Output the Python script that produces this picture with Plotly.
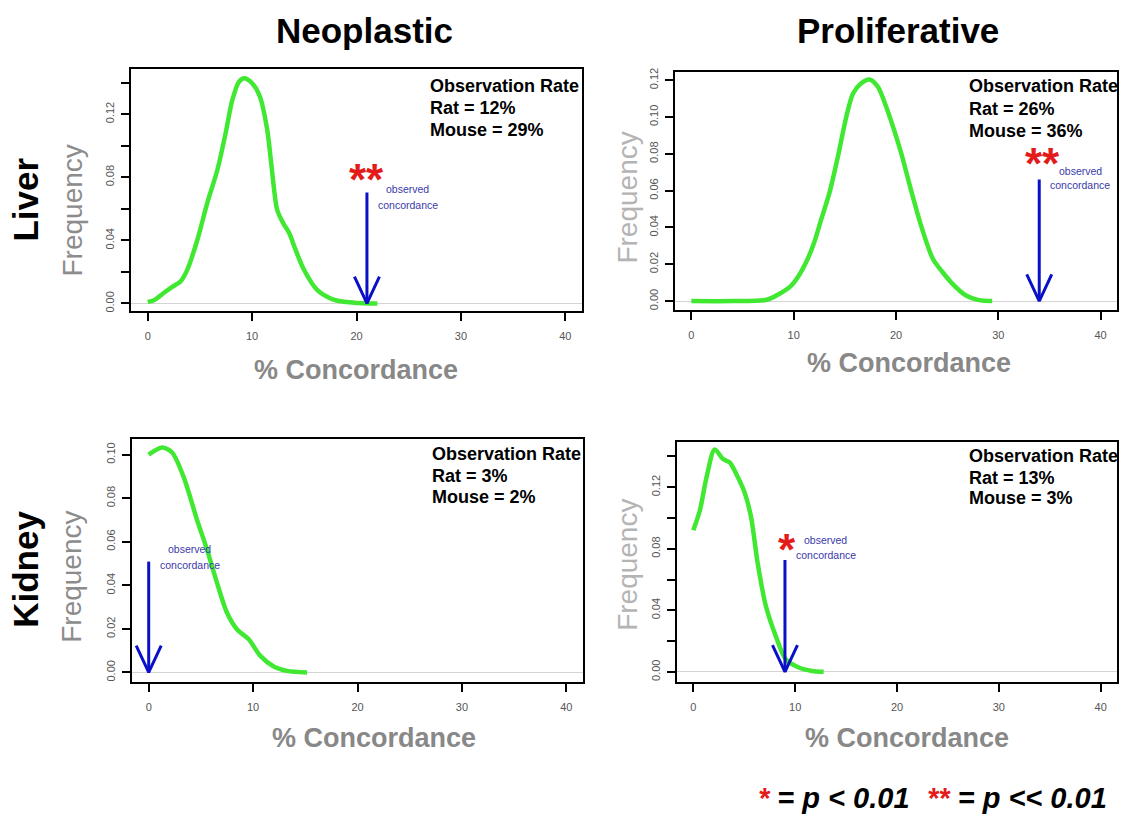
import plotly.graph_objects as go

W, H = 1122, 821
FONT = "Liberation Sans, Arial, Helvetica, sans-serif"

# ---------------- data ----------------
column_titles = ["Neoplastic", "Proliferative"]
row_titles = ["Liver", "Kidney"]
x_ticks = [0, 10, 20, 30, 40]

liver_neo_x = [0, 0.6, 1.56, 2.35, 3.16, 3.8, 4.76, 5.7, 6.67, 7.46, 8.1, 8.74, 9.25, 10.02, 10.75,
               11.45, 11.83, 12.4, 12.97, 13.55, 14.16, 14.96, 16.2, 17.8, 19.75, 22.0]
liver_neo_y = [0.001, 0.0021, 0.0068, 0.0105, 0.0141, 0.0215, 0.0404, 0.0636, 0.0846, 0.1078, 0.1289,
               0.1405, 0.1427, 0.1394, 0.131, 0.110, 0.0889, 0.0594, 0.051, 0.0447, 0.0341, 0.0215,
               0.0088, 0.0025, 0.0005, 0.0]

liver_pro_x = [0, 4.12, 7.36, 8.66, 9.8, 10.9, 11.9, 12.7, 13.5, 14.33, 15.15, 15.8, 16.57, 17.4,
               18.23, 19.03, 19.7, 20.5, 21.45, 22.45, 23.6, 24.54, 25.5, 26.8, 28.1, 29.4]
liver_pro_y = [0.0, 0.0, 0.0007, 0.0041, 0.0086, 0.0176, 0.0302, 0.0445, 0.0589, 0.0787, 0.1003,
               0.1128, 0.1182, 0.1204, 0.1164, 0.1057, 0.0949, 0.0805, 0.0607, 0.041, 0.023, 0.0158,
               0.0095, 0.0032, 0.0005, 0.0]

kidney_neo_x = [0, 1.28, 2.24, 3.35, 4.64, 5.6, 6.55, 7.5, 8.47, 9.58, 10.7, 11.97, 13.25, 15.17]
kidney_neo_y = [0.100, 0.1033, 0.101, 0.0897, 0.0699, 0.0562, 0.041, 0.0274, 0.0197, 0.0152, 0.0076,
                0.0027, 0.0007, 0.0]

kidney_pro_x = [0, 0.65, 1.3, 2.1, 2.92, 3.57, 4.22, 5.02, 5.67, 6.32, 7.13, 8.1, 9.08, 10.37, 11.66, 12.8]
kidney_pro_y = [0.092, 0.105, 0.1265, 0.1445, 0.1383, 0.1361, 0.1286, 0.1168, 0.1006, 0.0706, 0.0426,
                0.0232, 0.0082, 0.0028, 0.0006, 0.0]

observed_concordance = [21, 34, 0, 9]
significance = ["**", "**", "", "*"]
rat_rate = [12, 26, 3, 13]
mouse_rate = [29, 36, 2, 3]

y_ticks = [
    [0.00, 0.02, 0.04, 0.06, 0.08, 0.10, 0.12, 0.14],
    [0.00, 0.02, 0.04, 0.06, 0.08, 0.10, 0.12],
    [0.00, 0.02, 0.04, 0.06, 0.08, 0.10],
    [0.00, 0.02, 0.04, 0.06, 0.08, 0.10, 0.12, 0.14],
]
y_tick_labels = [
    ["0.00", "", "0.04", "", "0.08", "", "0.12", ""],
    ["0.00", "0.02", "0.04", "0.06", "0.08", "0.10", "0.12"],
    ["0.00", "0.02", "0.04", "0.06", "0.08", "0.10"],
    ["0.00", "", "0.04", "", "0.08", "", "0.12", ""],
]
curves = [(liver_neo_x, liver_neo_y), (liver_pro_x, liver_pro_y),
          (kidney_neo_x, kidney_neo_y), (kidney_pro_x, kidney_pro_y)]

# ---------------- layout (pixel boxes) ----------------
panels = [
    dict(x0=131, x1=582, y0=65, y1=309, yr=(-0.0046, 0.1489), arrow_top=0.0704,
         star_y=0.0805, star_dx=0, obs_y=(186, 202), freq=(72, 208, "#8c8c8c"), conc=(356, 369),
         rate=(428, [83, 105, 127])),
    dict(x0=675, x1=1117, y0=68, y1=308, yr=(-0.0047, 0.1247), arrow_top=0.0661,
         star_y=0.0761, star_dx=3, obs_y=(168, 182), freq=(628, 195, "#b4b4b4"), conc=(909, 362),
         rate=(967, [83, 106, 128])),
    dict(x0=132, x1=583, y0=438, y1=683, yr=(-0.0044, 0.1073), arrow_top=0.0509,
         star_y=None, star_dx=0, obs_y=(549, 565), freq=(72, 577, "#8c8c8c"), conc=(374, 739),
         rate=(430, [453, 475, 497])),
    dict(x0=677, x1=1117, y0=441, y1=683, yr=(-0.0066, 0.1495), arrow_top=0.0727,
         star_y=0.0816, star_dx=2, obs_y=(540, 555), freq=(628, 565, "#b4b4b4"), conc=(907, 739),
         rate=(967, [455, 477, 498])),
]
XR = (-1.6, 41.6)

def px(x):
    return x / W

def py(y):
    return 1 - y / H

fig = go.Figure()
annotations = []

for i, p in enumerate(panels):
    n = "" if i == 0 else str(i + 1)
    xa, ya = "x" + n, "y" + n
    cx, cy = curves[i]
    fig.add_trace(go.Scatter(x=cx, y=cy, mode="lines", xaxis=xa, yaxis=ya,
                             line=dict(color="#40e832", width=4.5, shape="spline", smoothing=0.8),
                             hoverinfo="skip", showlegend=False))
    # arrow
    ux = (p["x1"] - p["x0"]) / (XR[1] - XR[0])          # px per x unit
    uy = (p["y1"] - p["y0"]) / (p["yr"][1] - p["yr"][0])  # px per y unit
    hw, hh = 12.5 / ux, 27 / uy
    o = observed_concordance[i]
    fig.add_trace(go.Scatter(x=[o, o, None, o - hw, o, o + hw],
                             y=[p["arrow_top"], 0, None, hh, 0, hh],
                             mode="lines", xaxis=xa, yaxis=ya,
                             line=dict(color="#0a10c8", width=3),
                             hoverinfo="skip", showlegend=False))
    ax = dict(domain=[px(p["x0"]), px(p["x1"])], range=list(XR), tickvals=x_ticks,
              ticktext=[str(t) for t in x_ticks], ticks="outside", ticklen=8, tickwidth=1.5,
              tickcolor="black", showline=True, linecolor="black", linewidth=2, mirror=True,
              showgrid=False, zeroline=False, tickfont=dict(family=FONT, size=11, color="#555"),
              anchor=ya, fixedrange=True, ticklabelstandoff=6)
    ay = dict(domain=[py(p["y1"]), py(p["y0"])], range=list(p["yr"]), tickvals=y_ticks[i],
              ticktext=y_tick_labels[i], ticks="outside", ticklen=8, tickwidth=1.5,
              tickcolor="black", showline=True, linecolor="black", linewidth=2, mirror=True,
              showgrid=False, zeroline=True, zerolinecolor="#d4d4d4", zerolinewidth=1,
              tickangle=-90, tickfont=dict(family=FONT, size=11, color="#555"),
              anchor=xa, fixedrange=True, ticklabelstandoff=3)
    fig.update_layout(**{"xaxis" + n: ax, "yaxis" + n: ay})

    # significance stars
    if significance[i]:
        annotations.append(dict(x=o, y=p["star_y"], xref=xa, yref=ya, text="<b>%s</b>" % significance[i],
                                showarrow=False, xanchor="center", yanchor="middle", yshift=-3,
                                xshift=p["star_dx"],
                                font=dict(family=FONT, size=44, color="#e31b1b")))
    # observed concordance label
    for j, word in enumerate(["observed", "concordance"]):
        annotations.append(dict(x=px(p["x0"] + (o - XR[0]) * ux + 41), y=py(p["obs_y"][j]),
                                xref="paper", yref="paper", text=word, showarrow=False,
                                xanchor="center", yanchor="middle",
                                font=dict(family=FONT, size=10.5, color="#3a3aaa")))
    # observation rate box
    lines = ["Observation Rate", "Rat = %d%%" % rat_rate[i], "Mouse = %d%%" % mouse_rate[i]]
    for j, t in enumerate(lines):
        annotations.append(dict(x=px(p["rate"][0]), y=py(p["rate"][1][j]), xref="paper", yref="paper",
                                text="<b>%s</b>" % t, showarrow=False, xanchor="left", yanchor="middle",
                                font=dict(family=FONT, size=18, color="black")))
    # axis titles
    fx, fy, fc = p["freq"]
    annotations.append(dict(x=px(fx), y=py(fy), xref="paper", yref="paper", text="Frequency",
                            textangle=-90, showarrow=False, xanchor="center", yanchor="middle",
                            font=dict(family=FONT, size=28, color=fc)))
    annotations.append(dict(x=px(p["conc"][0]), y=py(p["conc"][1]), xref="paper", yref="paper",
                            text="<b>% Concordance</b>", showarrow=False, xanchor="center",
                            yanchor="middle", font=dict(family=FONT, size=27, color="#888")))

# column and row titles
for t, xc in zip(column_titles, [364, 898]):
    annotations.append(dict(x=px(xc), y=py(27), xref="paper", yref="paper", text="<b>%s</b>" % t,
                            showarrow=False, xanchor="center", yanchor="middle",
                            font=dict(family=FONT, size=35, color="black")))
for t, yc in zip(row_titles, [197, 570]):
    annotations.append(dict(x=px(26), y=py(yc), xref="paper", yref="paper", text="<b>%s</b>" % t,
                            textangle=-90, showarrow=False, xanchor="center", yanchor="middle",
                            font=dict(family=FONT, size=35, color="black")))

# significance key
annotations.append(dict(x=px(756), y=py(800), xref="paper", yref="paper",
                        text="<span style='color:#e31b1b'>*</span> = p &lt; 0.01", showarrow=False,
                        xanchor="left", yanchor="middle",
                        font=dict(family=FONT, size=29, color="black", weight="bold", style="italic")))
annotations.append(dict(x=px(925), y=py(800), xref="paper", yref="paper",
                        text="<span style='color:#e31b1b'>**</span> = p &lt;&lt; 0.01", showarrow=False,
                        xanchor="left", yanchor="middle",
                        font=dict(family=FONT, size=29, color="black", weight="bold", style="italic")))

fig.update_layout(width=W, height=H, margin=dict(l=0, r=0, t=0, b=0),
                  paper_bgcolor="white", plot_bgcolor="white", annotations=annotations,
                  showlegend=False)
fig.write_html("out.html")
